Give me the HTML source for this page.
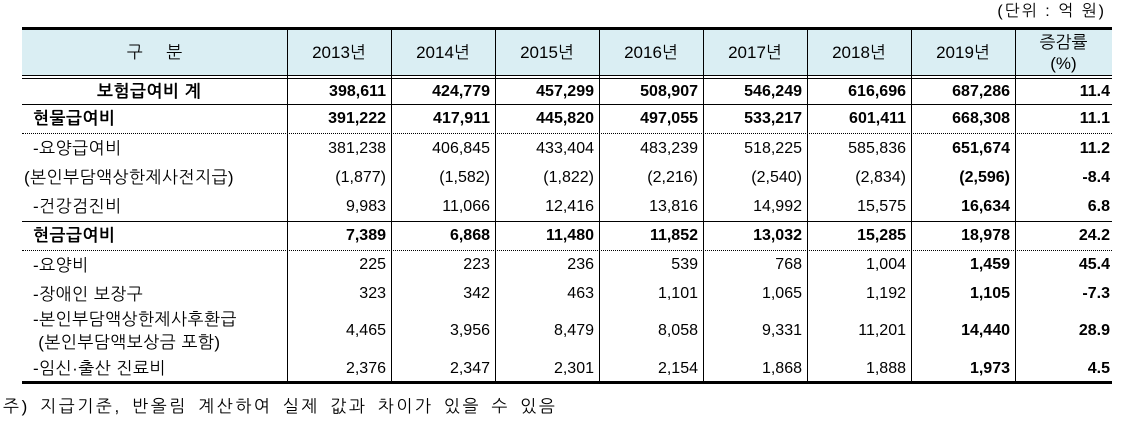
<!DOCTYPE html>
<html><head><meta charset="utf-8"><style>
body{margin:0;width:1130px;height:429px;background:#fff;position:relative;overflow:hidden;font-family:"Liberation Sans","NanumGothic","Noto Sans CJK KR",sans-serif;font-size:16px;color:#000}
.a{position:absolute}
.h{position:absolute;left:22px;width:1090px}
.v{position:absolute;top:30px;height:351px;width:1px;background:#000}
.r{position:absolute;left:22px;width:1090px;display:flex;align-items:center}
.r div{flex:none;width:104px;text-align:right;box-sizing:border-box;padding-right:5px}
.r div:first-child{width:265px;text-align:left;padding:0;font-size:17px;letter-spacing:0.5px}
.r div:last-child{width:97px;padding-right:2px;font-weight:bold}
.r div:nth-child(8){font-weight:bold}
.b div{font-weight:bold}
.hd div{text-align:center;padding:0;font-size:17px}
.dot{border-top:1px dotted #000;height:0}
</style></head><body>
<div class="a" style="right:24px;top:1px;font-size:16px;letter-spacing:2px">(단위 : 억 원)</div>
<div class="h" style="top:30px;height:45px;background:#daeef3"></div>
<div class="h" style="top:27px;height:3px;background:#000"></div>
<div class="h" style="top:75px;height:1px;background:#000"></div>
<div class="h" style="top:78px;height:1px;background:#000"></div>
<div class="h" style="top:104px;height:1px;background:#000"></div>
<div class="h dot" style="top:133px"></div>
<div class="h" style="top:221px;height:1px;background:#000"></div>
<div class="h dot" style="top:250px"></div>
<div class="h" style="top:381px;height:3px;background:#000"></div>
<div class="v" style="left:287px"></div><div class="v" style="left:391px"></div><div class="v" style="left:495px"></div><div class="v" style="left:599px"></div><div class="v" style="left:703px"></div><div class="v" style="left:807px"></div><div class="v" style="left:911px"></div><div class="v" style="left:1015px"></div>

<div class="r hd" style="top:30px;height:45px"><div style="text-align:center;letter-spacing:0">구&nbsp;&nbsp;&nbsp;&nbsp;&nbsp;분</div><div>2013년</div><div>2014년</div><div>2015년</div><div>2016년</div><div>2017년</div><div>2018년</div><div style="font-weight:normal">2019년</div><div style="line-height:21px;text-align:center;padding:0;font-weight:normal">증감률<br>(%)</div></div>

<div class="r b" style="top:79px;height:25px"><div style="padding-left:75px">보험급여비 계</div><div>398,611</div><div>424,779</div><div>457,299</div><div>508,907</div><div>546,249</div><div>616,696</div><div>687,286</div><div>11.4</div></div>
<div class="r b" style="top:105px;height:28px"><div style="padding-left:11px">현물급여비</div><div>391,222</div><div>417,911</div><div>445,820</div><div>497,055</div><div>533,217</div><div>601,411</div><div>668,308</div><div>11.1</div></div>
<div class="r" style="top:134px;height:29px"><div style="padding-left:11px">-요양급여비</div><div>381,238</div><div>406,845</div><div>433,404</div><div>483,239</div><div>518,225</div><div>585,836</div><div>651,674</div><div>11.2</div></div>
<div class="r" style="top:163px;height:29px"><div style="padding-left:2px">(본인부담액상한제사전지급)</div><div>(1,877)</div><div>(1,582)</div><div>(1,822)</div><div>(2,216)</div><div>(2,540)</div><div>(2,834)</div><div>(2,596)</div><div>-8.4</div></div>
<div class="r" style="top:192px;height:29px"><div style="padding-left:11px">-건강검진비</div><div>9,983</div><div>11,066</div><div>12,416</div><div>13,816</div><div>14,992</div><div>15,575</div><div>16,634</div><div>6.8</div></div>
<div class="r b" style="top:222px;height:28px"><div style="padding-left:11px">현금급여비</div><div>7,389</div><div>6,868</div><div>11,480</div><div>11,852</div><div>13,032</div><div>15,285</div><div>18,978</div><div>24.2</div></div>
<div class="r" style="top:251px;height:28px"><div style="padding-left:11px">-요양비</div><div>225</div><div>223</div><div>236</div><div>539</div><div>768</div><div>1,004</div><div>1,459</div><div>45.4</div></div>
<div class="r" style="top:280px;height:28px"><div style="padding-left:11px">-장애인 보장구</div><div>323</div><div>342</div><div>463</div><div>1,101</div><div>1,065</div><div>1,192</div><div>1,105</div><div>-7.3</div></div>
<div class="r" style="top:308px;height:46px"><div style="padding-left:11px;line-height:23px">-본인부담액상한제사후환급<br>&nbsp;(본인부담액보상금 포함)</div><div>4,465</div><div>3,956</div><div>8,479</div><div>8,058</div><div>9,331</div><div>11,201</div><div>14,440</div><div>28.9</div></div>
<div class="r" style="top:355px;height:27px"><div style="padding-left:11px">-임신·출산 진료비</div><div>2,376</div><div>2,347</div><div>2,301</div><div>2,154</div><div>1,868</div><div>1,888</div><div>1,973</div><div>4.5</div></div>

<div class="a" style="left:3px;top:396px;font-size:17px;letter-spacing:2.6px;word-spacing:3px">주) 지급기준, 반올림 계산하여 실제 값과 차이가 있을 수 있음</div>
</body></html>
